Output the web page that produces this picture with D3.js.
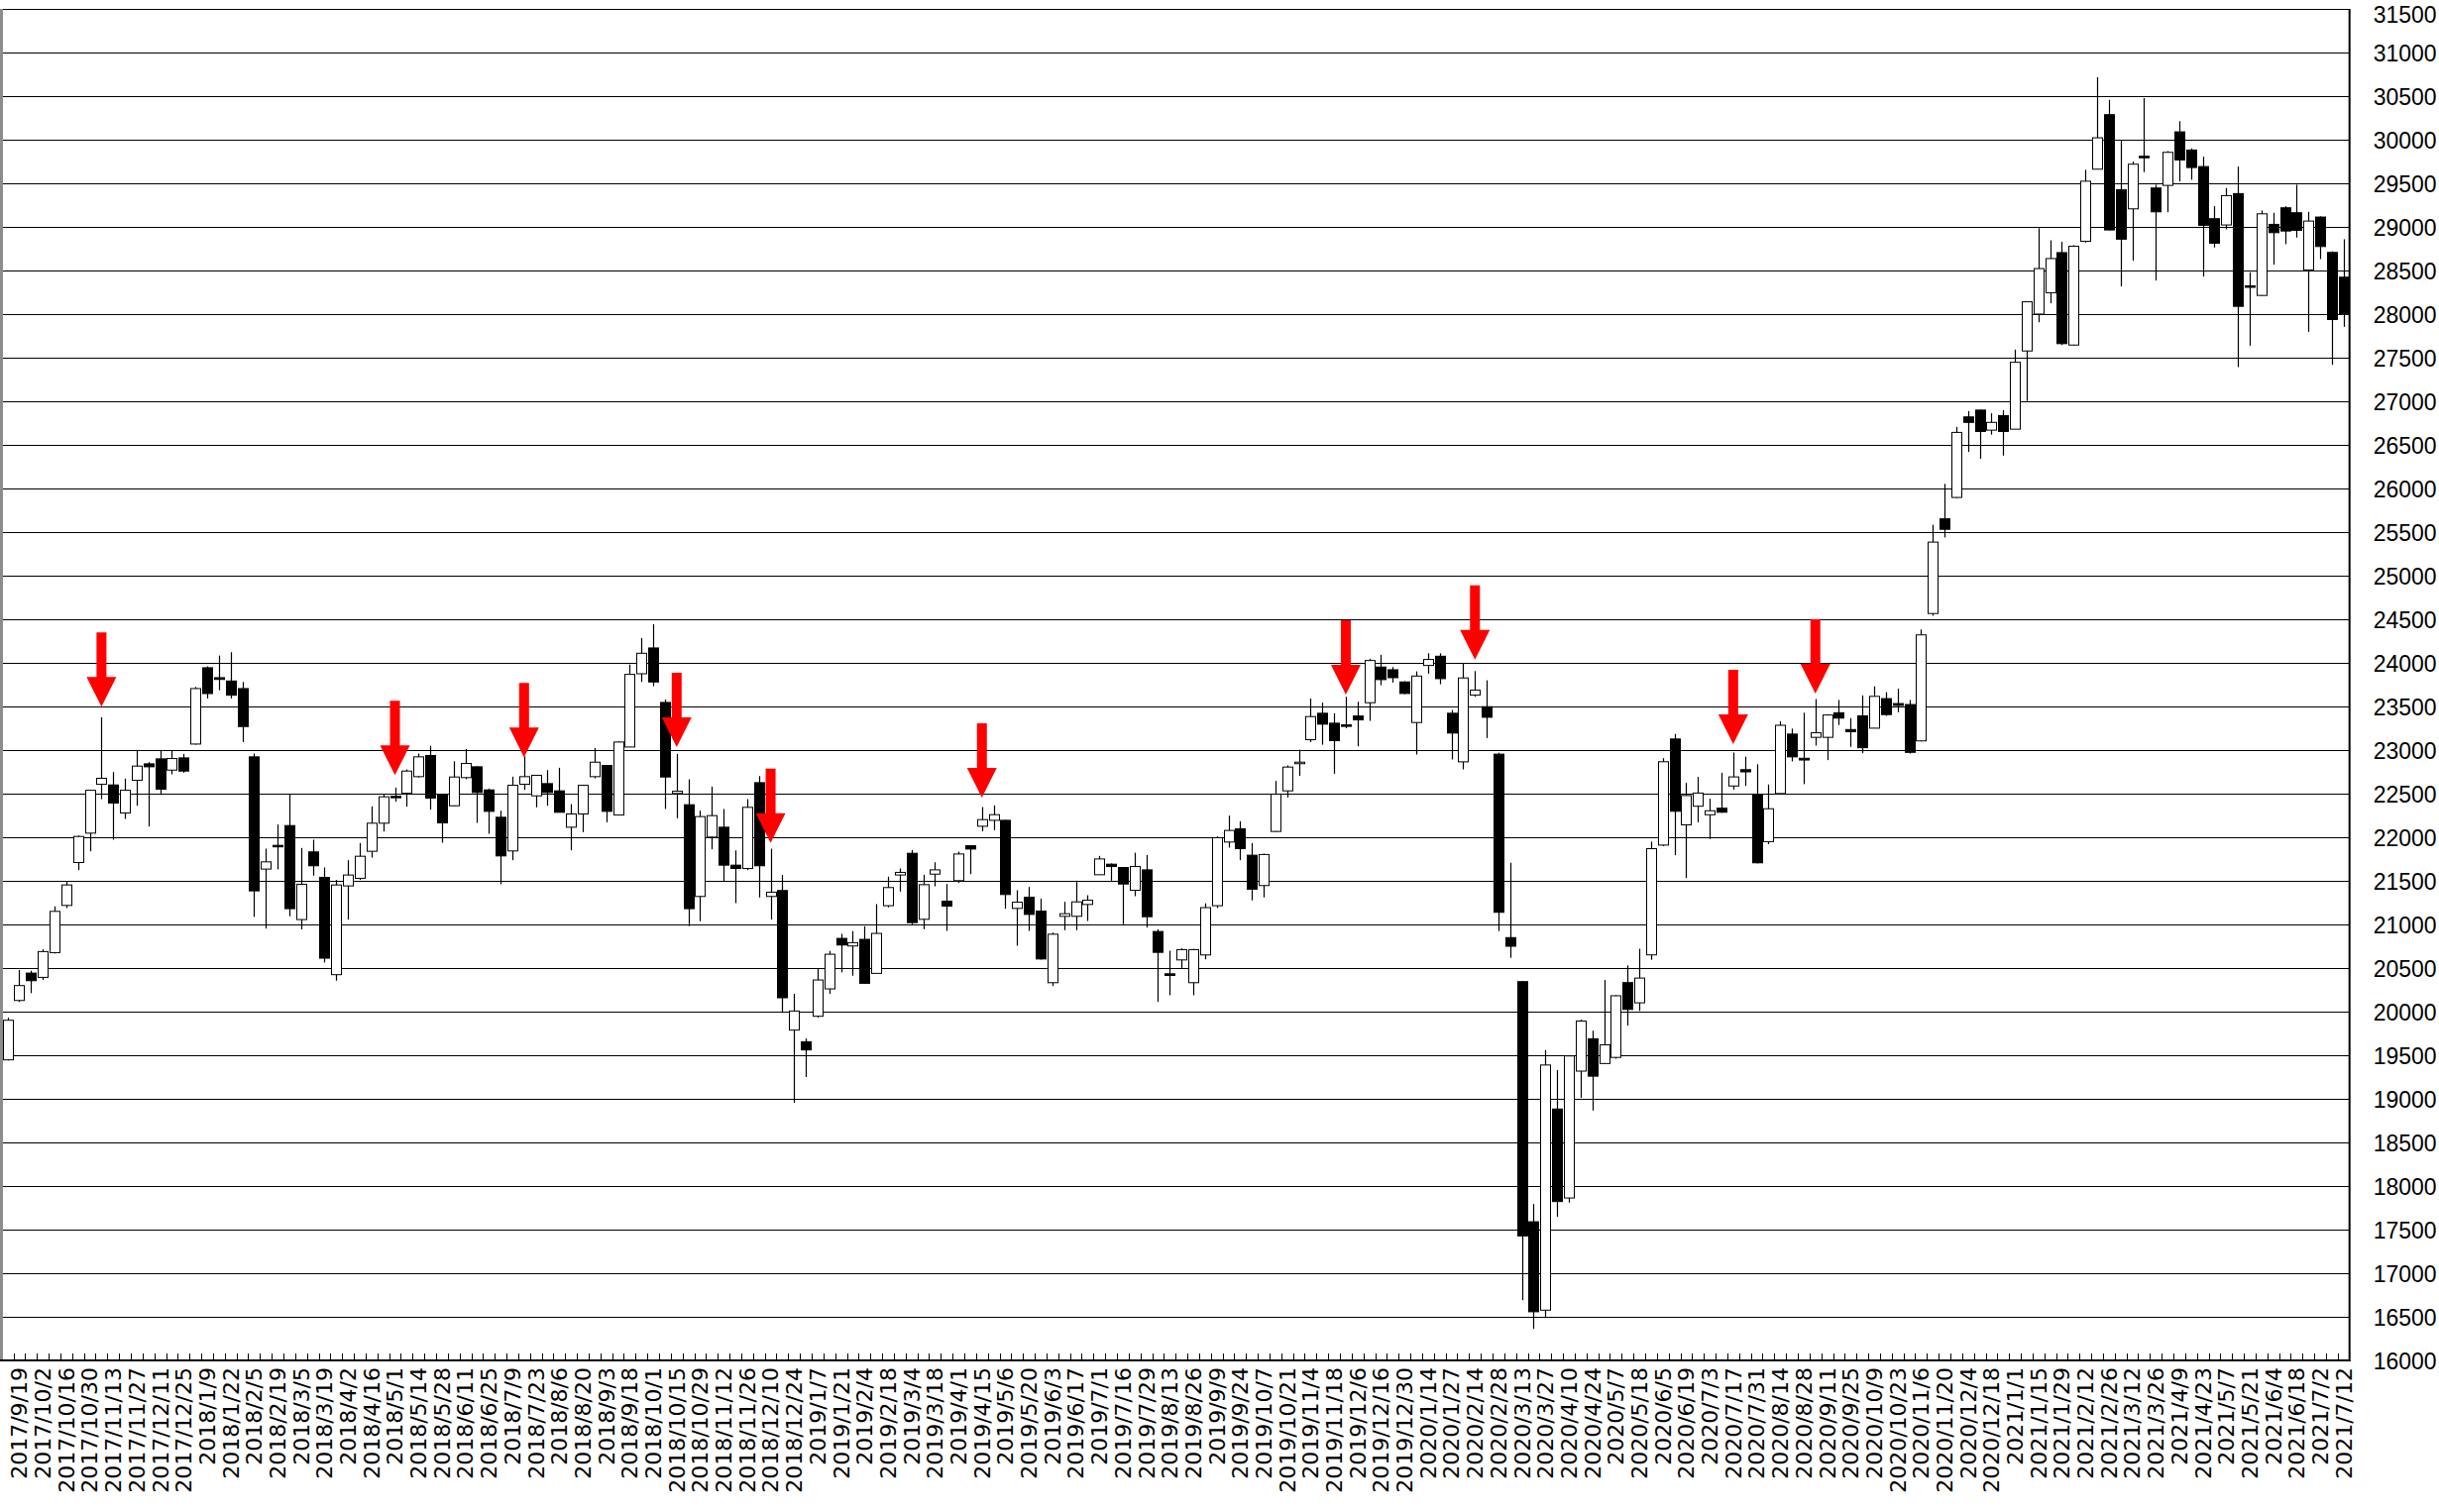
<!DOCTYPE html>
<html><head><meta charset="utf-8">
<script src="https://cdn.jsdelivr.net/npm/d3@7"></script>
<style>html,body{margin:0;padding:0;background:#fff;overflow:hidden;} svg{display:block;}</style>
</head><body>
<svg id="chart" width="2461" height="1526"></svg>
<script>
// ---- data (weekly OHLC) ----
const openP = [19447,20128,20442,20393,20677,21218,21710,22047,22607,22600,
22278,22653,22842,22899,22770,22910,23069,23944,23830,23792,
23705,22922,21635,21907,22134,21056,21832,21540,20424,21442,
21529,21839,22161,22470,22505,22695,22937,22494,22361,22684,
22808,22543,22229,21843,22608,22475,22615,22532,22115,22267,
22695,22823,22255,23035,23875,24171,23546,22502,22373,21321,
22002,22115,21680,21642,22626,21321,21389,19788,19655,19947,
20261,20840,20753,20829,20439,21215,21567,21816,21059,21577,
21267,21502,21903,22126,22194,22194,21184,21312,21153,20332,
21093,21093,21229,21570,21691,21653,21392,21626,20919,20434,
20593,20332,20650,21215,21945,22097,21794,21446,22067,22532,
22846,23119,23422,23308,23289,23391,23543,23952,23921,23781,
23316,23970,24076,23422,22865,23630,23497,22953,20849,20344,
17590,16576,18883,17863,19318,19689,19405,19475,20333,20101,
20651,21910,23127,22142,22356,22258,22333,22588,22775,22489,
21950,22501,23183,22906,23146,23146,23428,23235,23392,23251,
23590,23533,23522,23105,24566,25652,25897,26821,26899,26669,
26836,26680,27577,28000,28245,28705,27645,28835,29662,30287,
29427,29207,29810,29446,29476,30090,29882,29692,29094,29022,
29382,28324,28214,29029,29219,29162,28506,29113,28707,28423];

const highP = [19932,20477,20469,20715,21207,21491,22020,22545,23376,22748,
22672,22997,22861,22997,22997,22956,23724,23960,24084,24122,
23781,22960,21869,22146,22494,21877,21972,21654,21510,21737,
21934,22354,22494,22570,22778,22960,23050,22500,22872,23012,
22815,22558,22305,22695,22929,22715,22770,22797,22380,22600,
23024,22830,23100,23981,24284,24443,23580,22956,22664,22305,
22581,22324,21850,22437,22702,21869,21567,20204,19693,20488,
20696,20893,20923,20980,21233,21548,21642,21853,21570,21713,
21464,21835,21905,22346,22364,22200,21392,21430,21297,20907,
21259,21502,21335,21786,21700,21660,21823,21797,20945,20699,
20726,20720,21242,22010,22248,22184,21934,21813,22646,22824,
23005,23592,23543,23422,23611,23554,24046,24092,23952,23790,
23902,24110,24110,23460,23997,23906,23800,22970,21707,20350,
17793,19561,19330,19500,19909,19782,20362,20190,20530,20721,
21950,22907,23185,22623,22692,22443,22739,22971,22924,22837,
22605,23330,23246,23428,23585,23410,23574,23366,23627,23731,
23663,23705,23574,24383,25584,26053,26706,26888,26905,26862,
26899,27593,28145,28986,28846,28830,28790,29655,30716,30458,
29996,29749,30477,29484,29870,30212,29900,29806,29238,29446,
29692,28480,29188,29162,29238,29484,29173,29120,28720,28859];

const lowP = [19440,20110,20212,20363,20666,21188,21623,21839,22437,21972,
22210,22361,22123,22486,22721,22740,23062,23592,23686,23592,
23092,21086,20953,21631,21093,20942,21559,20564,20355,21056,
21510,21767,22066,22407,22350,22684,22316,21938,22354,22665,
22165,22040,21461,21737,22543,22343,22361,22286,21850,22059,
22676,22172,22255,23035,23781,23732,22324,22218,20980,21037,
21862,21491,21245,21623,21309,21056,19996,18955,19250,19932,
20204,20450,20412,20318,20435,21196,21377,21002,20945,21437,
20926,21475,21577,22069,22081,21180,20756,20926,20597,20294,
20934,20934,21040,21570,21502,21002,21324,20964,20112,20188,
20491,20188,20600,21188,21881,21737,21276,21310,22060,22456,
22703,23092,23062,22729,23250,23043,23335,23743,23774,23640,
22949,23876,23755,22892,22778,23611,23138,20924,20617,16691,
16361,16489,17648,17810,19011,18866,19400,19460,19840,20008,
20594,21898,21794,21533,22171,21979,22280,22547,22588,21700,
21921,22500,22870,22609,23052,22885,23287,23037,22964,23250,
23392,23434,22960,23100,24540,25438,25890,26419,26340,26617,
26377,26680,27003,27906,28125,27645,27640,28820,29660,28960,
28317,28612,29628,28385,29169,29522,29541,28430,28764,28972,
27392,27638,28210,28567,28802,28878,27797,28631,27418,27854];

const closeP = [19901,20299,20355,20689,21150,21453,22009,22539,22676,22392,
22539,22816,22808,22551,22903,22759,23705,23648,23810,23629,
23270,21385,21718,21895,21181,21461,21673,20613,21453,21567,
21782,22161,22464,22460,22759,22922,22449,22165,22691,22846,
22513,22297,21786,22596,22695,22710,22513,22286,22267,22596,
22861,22297,23092,23868,24110,23781,22691,22528,21181,22237,
22248,21680,21642,22343,21673,21370,20159,20007,19561,20363,
20658,20764,20791,20325,20897,21423,21597,21021,21456,21626,
21210,21808,21865,22202,22259,21343,21255,21115,20604,20888,
21123,21259,21278,21751,21664,21464,21664,21089,20680,20415,
20711,20711,21193,21995,22078,21870,21404,21802,22494,22805,
22861,23384,23297,23108,23278,23346,24027,23808,23830,23649,
23849,24039,23819,23195,23827,23687,23376,21139,20750,17428,
16558,19388,17822,19492,19892,19260,19619,20182,20025,20385,
21869,22866,22298,22478,22507,22304,22287,22692,22750,21707,
22327,23284,22922,22886,23198,23402,23366,23210,23027,23616,
23407,23512,22974,24321,25385,25532,26643,26758,26654,26758,
26654,27447,28141,28522,28637,27661,28778,29524,30022,28965,
28859,29719,29802,29173,29855,29768,29681,29018,28813,29359,
28089,28309,29150,28934,28953,28961,29067,28775,27938,28006];

// category labels shown under every second candle (candles 1,3,5,...)
const tickLabels = ["2017/9/19","2017/10/2","2017/10/16","2017/10/30","2017/11/13","2017/11/27","2017/12/11","2017/12/25",
"2018/1/9","2018/1/22","2018/2/5","2018/2/19","2018/3/5","2018/3/19","2018/4/2","2018/4/16","2018/5/1","2018/5/14",
"2018/5/28","2018/6/11","2018/6/25","2018/7/9","2018/7/23","2018/8/6","2018/8/20","2018/9/3","2018/9/18","2018/10/1",
"2018/10/15","2018/10/29","2018/11/12","2018/11/26","2018/12/10","2018/12/24",
"2019/1/7","2019/1/21","2019/2/4","2019/2/18","2019/3/4","2019/3/18","2019/4/1","2019/4/15","2019/5/6","2019/5/20",
"2019/6/3","2019/6/17","2019/7/1","2019/7/16","2019/7/29","2019/8/13","2019/8/26","2019/9/9","2019/9/24","2019/10/7",
"2019/10/21","2019/11/4","2019/11/18","2019/12/6","2019/12/16","2019/12/30","2020/1/14","2020/1/27","2020/2/14",
"2020/2/28","2020/3/13","2020/3/27","2020/4/10","2020/4/24","2020/5/7",
"2020/5/18","2020/6/5","2020/6/19","2020/7/3","2020/7/17","2020/7/31","2020/8/14","2020/8/28","2020/9/11","2020/9/25",
"2020/10/9","2020/10/23","2020/11/6","2020/11/20","2020/12/4","2020/12/18","2021/1/1","2021/1/15","2021/1/29",
"2021/2/12","2021/2/26","2021/3/12","2021/3/26","2021/4/9","2021/4/23","2021/5/7","2021/5/21","2021/6/4","2021/6/18",
"2021/7/2","2021/7/12"];

const yTickValues = [16000,16500,17000,17500,18000,18500,19000,19500,20000,20500,21000,21500,22000,22500,23000,23500,
24000,24500,25000,25500,26000,26500,27000,27500,28000,28500,29000,29500,30000,30500,31000,31500];

// red arrow markers: candle index and price of the arrow tip
const arrowCandles = [8,33,44,57,65,83,114,125,147,154];
const arrowTips = [23497,22712,22917,23034,21935,22455,23636,24038,23068,23648];

// ---- layout ----
const W = 2461, H = 1526;
const plotL = 1.7, plotR = 2370.7, plotT = 9, plotB = 1373;
const idx = d3.range(openP.length);

const x = d3.scaleBand().domain(idx).range([plotL, plotR]).padding(0);
const y = d3.scaleLinear().domain([16000, 31500]).range([plotB, plotT]);
const cx = i => x(i) + x.bandwidth() / 2;

const svg = d3.select("#chart");
svg.append("rect").attr("width", W).attr("height", H).attr("fill", "#fff");

// gridlines
svg.append("g").selectAll("line").data(yTickValues).join("line")
  .attr("x1", 0).attr("x2", plotR)
  .attr("y1", d => y(d)).attr("y2", d => y(d))
  .attr("stroke", "#000").attr("stroke-width", 1).attr("shape-rendering", "crispEdges");

// left border (grey)
svg.append("line").attr("x1", 1.5).attr("x2", 1.5).attr("y1", plotT).attr("y2", plotB)
  .attr("stroke", "#8c8c8c").attr("stroke-width", 3);

// candles
const bw = 10;
const cg = svg.append("g");
cg.selectAll("line.wick").data(idx).join("line").attr("class", "wick")
  .attr("x1", i => Math.round(cx(i)) + 0.5).attr("x2", i => Math.round(cx(i)) + 0.5)
  .attr("y1", i => y(highP[i])).attr("y2", i => y(lowP[i]))
  .attr("stroke", "#000").attr("stroke-width", 1.2);
cg.selectAll("rect.body").data(idx).join("rect").attr("class", "body")
  .attr("x", i => Math.round(cx(i)) + 0.5 - bw / 2)
  .attr("width", bw)
  .attr("y", i => y(Math.max(openP[i], closeP[i])))
  .attr("height", i => Math.max(1.5, Math.abs(y(openP[i]) - y(closeP[i]))))
  .attr("fill", i => closeP[i] >= openP[i] ? "#fff" : "#000")
  .attr("stroke", "#000").attr("stroke-width", 1);

// right border + bottom axis line
svg.append("line").attr("x1", plotR).attr("x2", plotR).attr("y1", plotT).attr("y2", plotB + 1)
  .attr("stroke", "#000").attr("stroke-width", 2);
svg.append("line").attr("x1", 0).attr("x2", plotR + 1).attr("y1", plotB).attr("y2", plotB)
  .attr("stroke", "#000").attr("stroke-width", 2);

// category boundary ticks (inside, pointing up)
svg.append("g").selectAll("line").data(idx.slice(1)).join("line")
  .attr("x1", i => Math.round(x(i)) + 0.5).attr("x2", i => Math.round(x(i)) + 0.5)
  .attr("y1", plotB - 7).attr("y2", plotB)
  .attr("stroke", "#000").attr("stroke-width", 1);

// right value axis
const yAxis = d3.axisRight(y).tickValues(yTickValues).tickSize(0).tickPadding(24).tickFormat(d => String(d));
const yg = svg.append("g").attr("transform", `translate(${plotR},0)`).call(yAxis);
yg.select(".domain").remove();
yg.selectAll("text").attr("font-family", "'Liberation Sans', Arial, sans-serif")
  .attr("font-size", 23).attr("fill", "#000")
  .attr("dy", d => d === yTickValues[yTickValues.length - 1] ? "0.58em" : "0.35em");

// bottom category axis labels (rotated)
const labelIdx = idx.filter(i => i % 2 === 1);
const xAxis = d3.axisBottom(x).tickValues(labelIdx).tickSize(0)
  .tickFormat(i => tickLabels[(i - 1) / 2]);
const xg = svg.append("g").attr("transform", `translate(0,${plotB})`).call(xAxis);
xg.select(".domain").remove();
xg.selectAll("text")
  .attr("font-family", "'DejaVu Sans', sans-serif").attr("font-size", 22).attr("fill", "#000")
  .attr("transform", "rotate(-90)")
  .attr("text-anchor", "end")
  .attr("x", -7).attr("y", 0).attr("dy", "0.36em");

// red arrows
const ag = svg.append("g");
arrowCandles.forEach((c, k) => {
  const tx = cx(c), ty = y(arrowTips[k]);
  const p = d3.path();
  p.moveTo(tx, ty);
  p.lineTo(tx - 15, ty - 30);
  p.lineTo(tx - 5, ty - 30);
  p.lineTo(tx - 5, ty - 75);
  p.lineTo(tx + 5, ty - 75);
  p.lineTo(tx + 5, ty - 30);
  p.lineTo(tx + 15, ty - 30);
  p.closePath();
  ag.append("path").attr("d", p.toString()).attr("fill", "#ff0000");
});
</script>
</body></html>
